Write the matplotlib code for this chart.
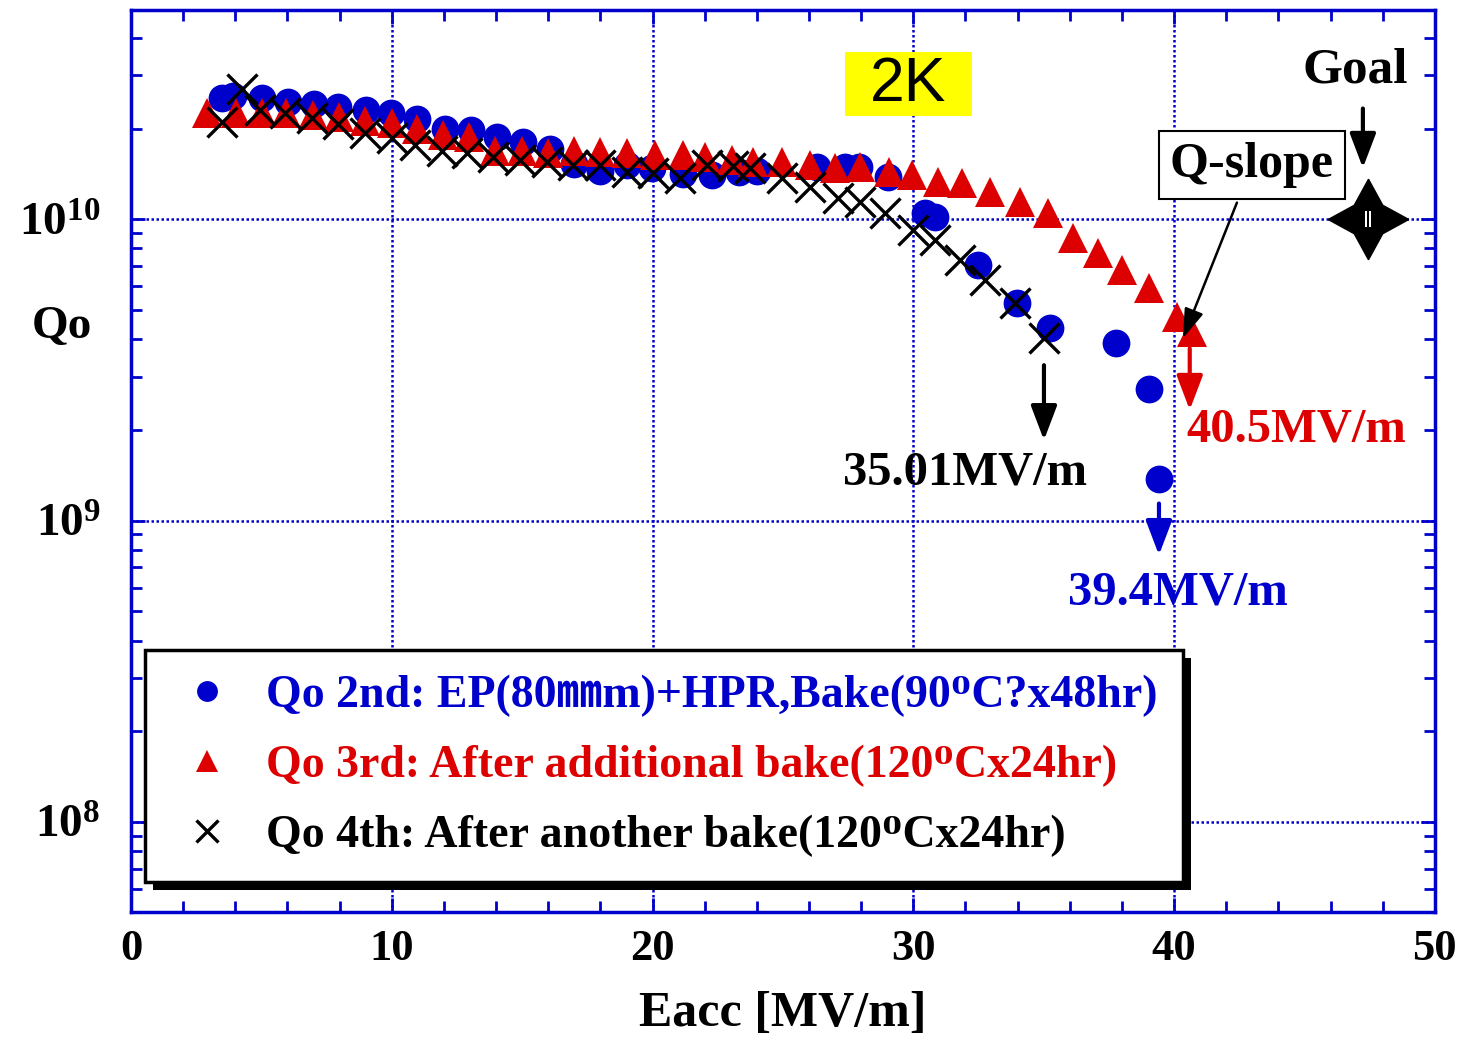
import matplotlib
matplotlib.use("Agg")
import matplotlib.pyplot as plt
import numpy as np
from matplotlib.patches import Rectangle
from matplotlib.transforms import IdentityTransform
from matplotlib.ticker import FixedLocator, LogLocator, FuncFormatter, MultipleLocator
from matplotlib.font_manager import FontProperties

# --- data (Eacc in MV/m, Qo) ---
blue_e = [3.49, 3.91, 5.02, 6.02, 7.02, 7.94, 9.01, 9.97, 10.97, 12.04, 13.04, 14.03,
          15.03, 16.07, 16.99, 17.98, 19.02, 19.98, 21.17, 22.28, 23.31, 24.0, 26.3,
          27.38, 27.91, 29.03, 30.44, 30.83, 32.48, 33.97, 35.24, 37.77, 39.03, 39.42]
blue_q = [2.52e10, 2.56e10, 2.52e10, 2.44e10, 2.41e10, 2.35e10, 2.30e10, 2.25e10,
          2.15e10, 2.00e10, 1.97e10, 1.87e10, 1.80e10, 1.71e10, 1.52e10, 1.45e10,
          1.51e10, 1.48e10, 1.41e10, 1.40e10, 1.44e10, 1.45e10, 1.49e10, 1.49e10,
          1.49e10, 1.38e10, 1.05e10, 1.02e10, 7.04e9, 5.26e9, 4.35e9, 3.88e9,
          2.73e9, 1.38e9]

red_e = [2.91, 4.03, 5.02, 5.94, 6.98, 7.98, 8.97, 10.01, 10.97, 11.96, 12.96, 13.96,
         14.99, 15.99, 16.99, 17.98, 19.02, 20.09, 21.17, 22.01, 23.04, 23.85, 24.96,
         26.03, 26.99, 27.95, 29.06, 29.95, 30.94, 31.86, 32.94, 34.09, 35.16, 36.12,
         37.08, 38.0, 39.03, 40.11, 40.68]
red_q = [2.25e10, 2.25e10, 2.25e10, 2.25e10, 2.21e10, 2.18e10, 2.11e10, 2.08e10,
         2.00e10, 1.91e10, 1.88e10, 1.69e10, 1.68e10, 1.66e10, 1.68e10, 1.67e10,
         1.66e10, 1.63e10, 1.63e10, 1.61e10, 1.57e10, 1.55e10, 1.55e10, 1.51e10,
         1.48e10, 1.49e10, 1.43e10, 1.40e10, 1.33e10, 1.32e10, 1.23e10, 1.14e10,
         1.05e10, 8.65e9, 7.71e9, 6.77e9, 5.91e9, 4.73e9, 4.22e9]

black_e = [3.49, 4.26, 4.95, 5.90, 6.94, 7.94, 8.97, 10.01, 10.89, 11.92, 12.88, 13.88,
           14.92, 15.95, 16.95, 17.98, 19.02, 20.02, 21.05, 22.09, 23.08, 23.73, 24.96,
           26.03, 27.11, 27.95, 28.91, 29.98, 30.83, 31.79, 32.75, 33.90, 35.01]
black_q = [2.10e10, 2.70e10, 2.30e10, 2.25e10, 2.16e10, 2.07e10, 1.93e10, 1.86e10,
           1.76e10, 1.69e10, 1.66e10, 1.61e10, 1.57e10, 1.55e10, 1.51e10, 1.51e10,
           1.43e10, 1.42e10, 1.37e10, 1.51e10, 1.50e10, 1.48e10, 1.37e10, 1.28e10,
           1.18e10, 1.14e10, 1.05e10, 9.21e9, 8.52e9, 7.31e9, 6.28e9, 5.26e9, 4.03e9]

labels = [
    "Qo 2nd: EP(80㎜m)+HPR,Bake(90ᴼC?x48hr)",
    "Qo 3rd: After additional bake(120ᴼCx24hr)",
    "Qo 4th: After another bake(120ᴼCx24hr)",
]

goal_e, goal_q = 47.43, 1e10

BLUE = "#0000cc"
RED = "#dd0000"
FAMILY = ["Liberation Serif", "DejaVu Serif", "Noto Sans CJK JP"]

plt.rcParams["font.family"] = FAMILY
plt.rcParams["font.weight"] = "bold"
plt.rcParams["axes.labelweight"] = "bold"
plt.rcParams["mathtext.fontset"] = "custom"
plt.rcParams["mathtext.rm"] = "Liberation Serif:bold"
plt.rcParams["mathtext.bf"] = "Liberation Serif:bold"
plt.rcParams["mathtext.it"] = "Liberation Serif:bold:italic"

fig = plt.figure(figsize=(14.7, 10.4), dpi=100)
ax = fig.add_axes([0.0891, 0.123, 0.887, 0.867])

ax.plot(blue_e, blue_q, "o", color=BLUE, ms=20, mew=0, label=labels[0], zorder=3)
ax.plot(red_e, red_q, "^", color=RED, ms=21, mew=0, label=labels[1], zorder=3)
ax.plot(black_e, black_q, "x", color="black", ms=22, mew=2.4, label=labels[2], zorder=3)

ax.set_yscale("log")
ax.set_xlim(0, 50)
ax.set_ylim(5.03e7, 4.93e10)

ax.xaxis.set_major_locator(MultipleLocator(10))
ax.xaxis.set_minor_locator(MultipleLocator(2))
ax.yaxis.set_major_locator(FixedLocator([1e8, 1e9, 1e10]))
ax.yaxis.set_minor_locator(LogLocator(base=10, subs=np.arange(2, 10)))
ax.yaxis.set_major_formatter(FuncFormatter(lambda v, p: r"$10^{%d}$" % round(np.log10(v))))
ax.yaxis.set_minor_formatter(FuncFormatter(lambda v, p: ""))

ax.tick_params(which="both", direction="in", top=True, right=True, color=BLUE, width=2)
ax.tick_params(which="major", length=10)
ax.tick_params(which="minor", length=8)
ax.tick_params(axis="x", labelsize=32, pad=12)
ax.tick_params(axis="y", labelsize=34, pad=22)

for sp in ax.spines.values():
    sp.set_color(BLUE)
    sp.set_linewidth(2.5)

ax.grid(True, which="major", color=BLUE, linestyle=(0, (1, 1)), linewidth=1.8)

ax.set_xlabel("Eacc [MV/m]", fontsize=36, labelpad=16)
ax.set_ylabel("Qo", fontsize=34, rotation=0, ha="center", va="center")
ax.yaxis.set_label_coords(-0.053, 0.649)

# annotations
arrow_kw = dict(arrowstyle="-|>,head_length=1.0,head_width=0.38", lw=3,
                shrinkA=0, shrinkB=0, mutation_scale=21)

ax.add_patch(Rectangle((27.38, 2.20e10), 4.87, 1.38e10, fc="#ffff00", ec="none", zorder=2))
ax.text(29.79, 2.8e10, "2K", fontsize=45, fontweight="normal", family="Liberation Sans",
        ha="center", va="center", zorder=2.5)

ax.text(46.93, 3.12e10, "Goal", fontsize=37, ha="center", va="center")
ax.annotate("", xy=(47.24, 1.48e10), xytext=(47.24, 2.33e10),
            arrowprops=dict(color="black", **arrow_kw))
ax.plot([goal_e], [goal_q], marker=(4, 1, 0), ms=58, color="black", zorder=4)
ax.plot([goal_e], [goal_q], marker="$||$", ms=12, color="white", mew=0, zorder=5)

ax.annotate("Q-slope", xy=(40.34, 4.03e9), xytext=(42.98, 1.51e10), fontsize=36,
            ha="center", va="center",
            bbox=dict(boxstyle="square,pad=0.22", fc="white", ec="black", lw=1.5),
            arrowprops=dict(arrowstyle="-|>,head_length=0.9,head_width=0.3",
                            color="black", lw=1.8, mutation_scale=20, shrinkB=0),
            zorder=6)

ax.annotate("", xy=(35.01, 1.85e9), xytext=(35.01, 3.28e9),
            arrowprops=dict(color="black", **arrow_kw))
ax.text(31.98, 1.45e9, "35.01MV/m", fontsize=35, color="black", ha="center", va="center")

ax.annotate("", xy=(40.6, 2.33e9), xytext=(40.6, 3.73e9),
            arrowprops=dict(color=RED, **arrow_kw))
ax.text(44.67, 2.0e9, "40.5MV/m", fontsize=35, color=RED, ha="center", va="center")

ax.annotate("", xy=(39.42, 7.69e8), xytext=(39.42, 1.14e9),
            arrowprops=dict(color=BLUE, **arrow_kw))
ax.text(40.15, 5.79e8, "39.4MV/m", fontsize=35, color=BLUE, ha="center", va="center")

leg = ax.legend(loc="lower left", bbox_to_anchor=(0.0107, 0.033), borderaxespad=0,
                prop=FontProperties(family=FAMILY, weight="bold", size=33),
                labelcolor="linecolor", markerscale=0.75, fancybox=False, framealpha=1,
                edgecolor="black", borderpad=0.55, labelspacing=0.6,
                handlelength=1.6, handletextpad=0.5)
leg.get_frame().set_linewidth(2.5)
leg.set_zorder(7)

# thick black drop shadow under the legend box
fig.canvas.draw()
bb = leg.get_window_extent()
ax.add_patch(Rectangle((bb.x0 + 8, bb.y0 - 8), bb.width, bb.height, transform=IdentityTransform(),
                       fc="black", ec="none", zorder=6.9, clip_on=False))

fig.savefig("out.png", dpi=100)
